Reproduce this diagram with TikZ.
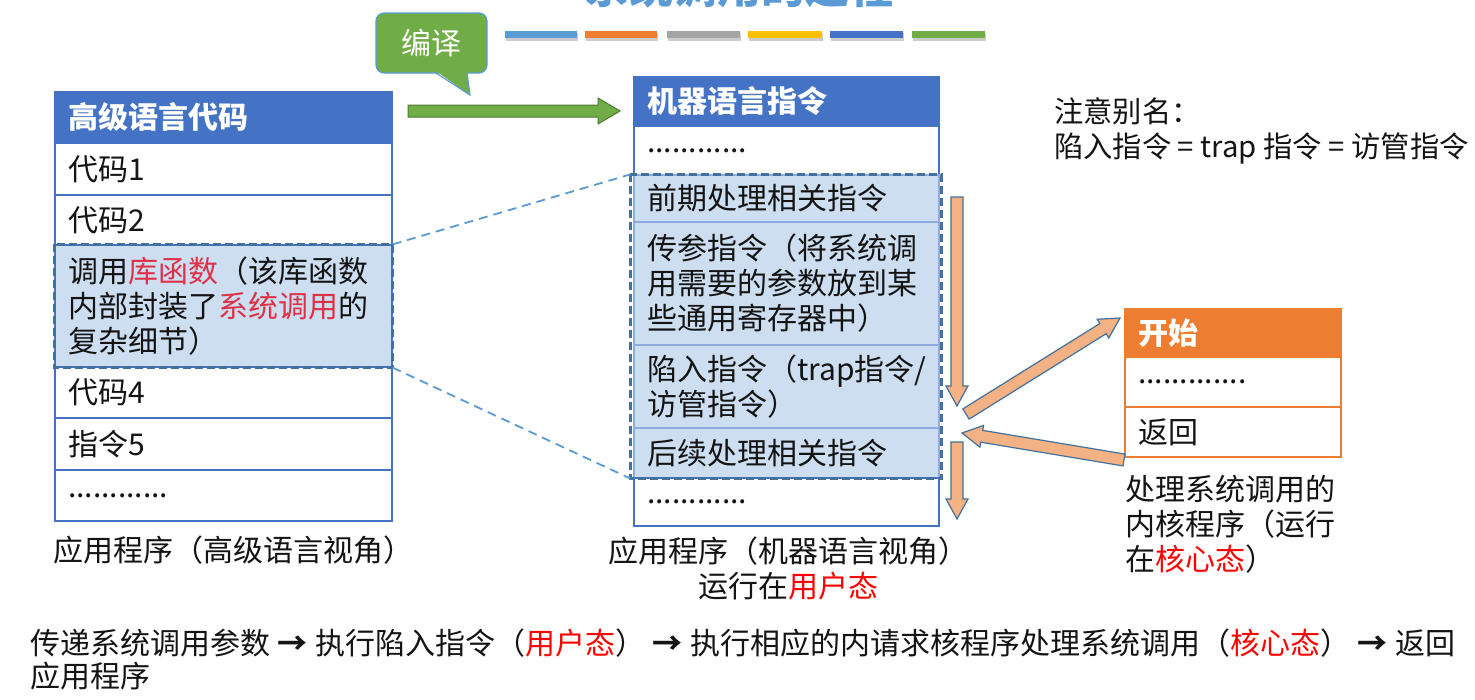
\documentclass[tikz,border=0pt]{standalone}
\usepackage{fontspec}
\setmainfont{Noto Sans CJK SC}
\usetikzlibrary{calc}
\definecolor{hblue}{HTML}{4472C4}
\definecolor{lblue}{HTML}{5B9BD5}
\definecolor{hlfill}{RGB}{204,222,240}
\definecolor{dashblue}{HTML}{41719C}
\definecolor{gfill}{HTML}{70AD47}
\definecolor{ofill}{HTML}{F4B183}
\definecolor{oline}{HTML}{41719C}
\definecolor{orng}{HTML}{ED7D31}
\definecolor{gry}{HTML}{A5A5A5}
\definecolor{gold}{HTML}{FFC000}
\definecolor{libred}{RGB}{222,48,70}
\definecolor{txt}{RGB}{20,20,20}
% block arrow: [style]{from}{to}{shaft half width}{head half width}{head length}
\newcommand\blockarrow[6][]{%
  \coordinate (tmpH) at ($(#3)!#6pt!(#2)$);
  \draw[#1] ($(#2)!#4pt!90:(#3)$) -- ($(tmpH)!#4pt!90:(#3)$) -- ($(tmpH)!#5pt!90:(#3)$) -- (#3)
    -- ($(tmpH)!#5pt!-90:(#3)$) -- ($(tmpH)!#4pt!-90:(#3)$) -- ($(#2)!#4pt!-90:(#3)$) -- cycle;}
\begin{document}
\begin{tikzpicture}[x=1pt,y=-1pt,font=\fontsize{30}{35}\selectfont,text=txt,
  cellL/.style={draw=hblue, line width=1.2pt, text width=311pt, inner xsep=13pt, inner ysep=0pt, align=left},
  cellM/.style={draw=hblue, line width=1.2pt, text width=279pt, inner xsep=13pt, inner ysep=0pt, align=left},
  cellK/.style={draw=orng, line width=1.2pt, text width=190pt, inner xsep=13pt, inner ysep=0pt, align=left},
  hdr/.style={text=white, font=\fontsize{30}{35}\selectfont\bfseries},
  hl/.style={fill=hlfill},
  hlbox/.style={draw=dashblue, line width=2.8pt, dash pattern=on 8pt off 4pt},
  dashconn/.style={draw=lblue, line width=1.8pt, dash pattern=on 9pt off 6pt},
  oarrow/.style={fill=ofill, draw=oline, line width=1.2pt},
  garrow/.style={fill=gfill, draw=gfill!70!black, line width=1pt},
  caption/.style={inner sep=0pt, align=left},
  bar/.style={line width=0pt}]
\fill[white] (0,0) rectangle (1475,699);
\useasboundingbox (0,0) rectangle (1475,699);

% cut-off title (as in the reference)
\node[anchor=base, inner sep=0pt, text=lblue, font=\fontsize{44}{50}\selectfont\bfseries] (title) at (739,3) {系统调用的过程};

% colour bars
\foreach \xa/\xb/\c in {505/577/lblue, 585/657/orng, 667/740/gry, 748/822/gold, 830/903/hblue, 912/985/gfill}{
  \fill[black!20] (\xa+1,33) rectangle (\xb+1,41);
  \fill[\c] (\xa,31) rectangle (\xb,38);
}

% callout
\node[fill=gfill, draw=lblue, line width=1.2pt, rounded corners=8pt, minimum width=111pt, minimum height=60pt, text=white, inner sep=0pt] (cl) at (431.5,43) {编译};
\coordinate (cltip) at (470,95);
\fill[gfill] (436,71) -- (467,71) -- (cltip) -- cycle;
\draw[lblue, line width=1.2pt] (436,73) -- (cltip) -- (467,73);

% green arrow
\coordinate (gs) at (408,111);
\coordinate (ge) at (620,111);
\blockarrow[garrow]{gs}{ge}{6}{13}{22}

% left table
\node[cellL, fill=hblue, hdr, minimum height=51pt] (lh) at (223.5,117.5) {高级语言代码};
\node[cellL, minimum height=52pt] (l1) at (223.5,169) {代码1};
\node[cellL, minimum height=50pt] (l2) at (223.5,220) {代码2};
\node[cellL, hl, minimum height=122pt] (l3) at (223.5,306) {调用{\color{libred}库函数}（该库函数\\内部封装了{\color{libred}系统调用}的\\复杂细节）};
\node[cellL, minimum height=51pt] (l4) at (223.5,392.5) {代码4};
\node[cellL, minimum height=52pt] (l5) at (223.5,444) {指令5};
\node[cellL, minimum height=51pt] (l6) at (223.5,495.5) {............};
\draw[hlbox] (l3.north west) rectangle (l3.south east);
\node[caption, anchor=west] (lcap) at (53,550) {应用程序（高级语言视角）};

% middle table
\node[cellM, fill=hblue, hdr, minimum height=49pt] (mh) at (786.5,101.5) {机器语言指令};
\node[cellM, minimum height=49pt] (m1) at (786.5,150.5) {............};
\node[cellM, hl, draw=hblue!60, minimum height=47pt] (m2) at (786.5,198.5) {前期处理相关指令};
\node[cellM, hl, draw=hblue!60, minimum height=123pt] (m3) at (786.5,283.5) {传参指令（将系统调\\用需要的参数放到某\\些通用寄存器中）};
\node[cellM, hl, draw=hblue!60, minimum height=83pt] (m4) at (786.5,386.5) {陷入指令（trap指令/\\访管指令）};
\node[cellM, hl, draw=hblue!60, minimum height=50pt] (m5) at (786.5,453) {后续处理相关指令};
\node[cellM, minimum height=48pt] (m6) at (786.5,502) {............};
\draw[hlbox] ([xshift=-3pt]m2.north west) rectangle ([xshift=2pt]m5.south east);
\node[caption, align=center] (mcap) at (788,568.5) {应用程序（机器语言视角）\\运行在{\color{red}用户态}};

% dashed connectors
\draw[dashconn] (l3.north east) -- ([xshift=-3pt]m2.north west);
\draw[dashconn] (l3.south east) -- ([xshift=-3pt]m5.south west);

% right table
\node[cellK, fill=orng, hdr, minimum height=48pt] (kh) at (1233,333) {开始};
\node[cellK, minimum height=50pt] (k1) at (1233,382) {.............};
\node[cellK, minimum height=50pt] (k2) at (1233,432) {返回};
\node[caption, anchor=west] (kcap) at (1125,524) {处理系统调用的\\内核程序（运行\\在{\color{red}核心态}）};

% orange arrows
\coordinate (a1s) at (957,197);
\coordinate (a1e) at (957,406);
\coordinate (a2s) at (966,414);
\coordinate (a2e) at (1120,318);
\coordinate (a3s) at (1124,460);
\coordinate (a3e) at (962,433);
\coordinate (a4s) at (957,442);
\coordinate (a4e) at (957,519);
\blockarrow[oarrow]{a1s}{a1e}{6}{11}{20}
\blockarrow[oarrow]{a2s}{a2e}{6}{11}{20}
\blockarrow[oarrow]{a3s}{a3e}{6}{11}{20}
\blockarrow[oarrow]{a4s}{a4e}{6}{11}{20}

% note
\node[caption, anchor=west, font=\fontsize{29.3}{35}\selectfont] (note) at (1054,130.5) {注意别名：\\陷入指令 = trap 指令 = 访管指令};

% bottom text
\node[caption, anchor=west, font=\fontsize{30}{33}\selectfont] (bottom) at (30,659.5) {传递系统调用参数\hspace{7pt}\textbf{→}\hspace{8pt}执行陷入指令（{\color{red}用户态}）\hspace{7pt}\textbf{→}\hspace{8pt}执行相应的内请求核程序处理系统调用（{\color{red}核心态}）\hspace{7pt}\textbf{→}\hspace{8pt}返回\\应用程序};
\end{tikzpicture}
\end{document}
